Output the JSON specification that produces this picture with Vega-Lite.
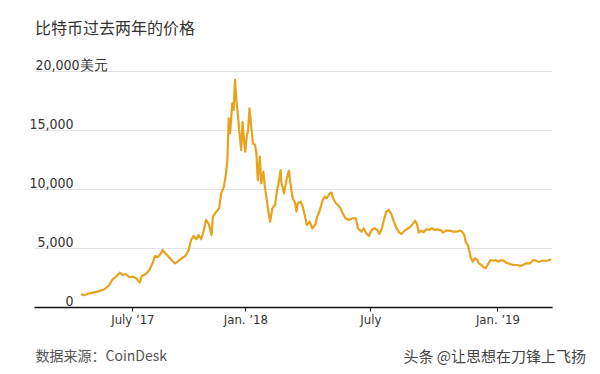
{
  "$schema": "https://vega.github.io/schema/vega-lite/v6.json",
  "width": 518,
  "height": 236,
  "autosize": {"type": "none"},
  "padding": {"left": 34, "top": 71, "right": 48, "bottom": 67},
  "background": "white",
  "title": {"text": "比特币过去两年的价格", "anchor": "start", "frame": "group", "font": "Noto Sans CJK SC", "fontSize": 16, "fontWeight": "normal", "color": "#333333", "offset": 21, "dx": 1},
  "config": {"view": {"stroke": null}},
  "data": {"values": [
    {"date": "2017-05-08", "price": 1076}, {"date": "2017-05-13", "price": 1000}, {"date": "2017-05-20", "price": 1160},
    {"date": "2017-06-01", "price": 1300}, {"date": "2017-06-11", "price": 1500}, {"date": "2017-06-18", "price": 1865},
    {"date": "2017-06-23", "price": 2350}, {"date": "2017-06-28", "price": 2570}, {"date": "2017-07-03", "price": 2910},
    {"date": "2017-07-07", "price": 2710}, {"date": "2017-07-12", "price": 2800}, {"date": "2017-07-17", "price": 2520},
    {"date": "2017-07-22", "price": 2570}, {"date": "2017-07-27", "price": 2430}, {"date": "2017-08-01", "price": 2060},
    {"date": "2017-08-04", "price": 2630}, {"date": "2017-08-10", "price": 2800}, {"date": "2017-08-15", "price": 3140},
    {"date": "2017-08-20", "price": 3760}, {"date": "2017-08-23", "price": 4320}, {"date": "2017-08-27", "price": 4210},
    {"date": "2017-09-01", "price": 4550}, {"date": "2017-09-03", "price": 4830}, {"date": "2017-09-07", "price": 4550},
    {"date": "2017-09-11", "price": 4320}, {"date": "2017-09-16", "price": 3980}, {"date": "2017-09-21", "price": 3700},
    {"date": "2017-09-25", "price": 3840}, {"date": "2017-10-01", "price": 4130}, {"date": "2017-10-06", "price": 4320},
    {"date": "2017-10-11", "price": 4830}, {"date": "2017-10-14", "price": 5620}, {"date": "2017-10-18", "price": 6020},
    {"date": "2017-10-22", "price": 5740}, {"date": "2017-10-25", "price": 6100}, {"date": "2017-10-29", "price": 5740},
    {"date": "2017-11-02", "price": 6530}, {"date": "2017-11-05", "price": 7370}, {"date": "2017-11-07", "price": 7230},
    {"date": "2017-11-09", "price": 7030}, {"date": "2017-11-13", "price": 6100}, {"date": "2017-11-15", "price": 7650},
    {"date": "2017-11-20", "price": 8080}, {"date": "2017-11-24", "price": 8360}, {"date": "2017-11-27", "price": 9630},
    {"date": "2017-12-01", "price": 10200}, {"date": "2017-12-04", "price": 11330}, {"date": "2017-12-06", "price": 12460},
    {"date": "2017-12-08", "price": 15990}, {"date": "2017-12-10", "price": 14720}, {"date": "2017-12-13", "price": 17260},
    {"date": "2017-12-15", "price": 16690}, {"date": "2017-12-17", "price": 19240}, {"date": "2017-12-19", "price": 17540},
    {"date": "2017-12-21", "price": 16410}, {"date": "2017-12-24", "price": 14430}, {"date": "2017-12-26", "price": 13300},
    {"date": "2017-12-28", "price": 15700}, {"date": "2017-12-30", "price": 14150}, {"date": "2018-01-01", "price": 13160},
    {"date": "2018-01-03", "price": 14430}, {"date": "2018-01-05", "price": 15000}, {"date": "2018-01-07", "price": 16840},
    {"date": "2018-01-10", "price": 15000}, {"date": "2018-01-12", "price": 13870}, {"date": "2018-01-15", "price": 13730},
    {"date": "2018-01-17", "price": 13030}, {"date": "2018-01-19", "price": 10760}, {"date": "2018-01-22", "price": 12740},
    {"date": "2018-01-24", "price": 10480}, {"date": "2018-01-27", "price": 11470}, {"date": "2018-01-29", "price": 10340},
    {"date": "2018-02-01", "price": 9070}, {"date": "2018-02-03", "price": 8220}, {"date": "2018-02-06", "price": 7230},
    {"date": "2018-02-09", "price": 8360}, {"date": "2018-02-13", "price": 8640}, {"date": "2018-02-16", "price": 9920},
    {"date": "2018-02-19", "price": 10760}, {"date": "2018-02-21", "price": 11610}, {"date": "2018-02-22", "price": 10620},
    {"date": "2018-02-26", "price": 9630}, {"date": "2018-03-02", "price": 10900}, {"date": "2018-03-05", "price": 11550},
    {"date": "2018-03-07", "price": 10620}, {"date": "2018-03-10", "price": 9350}, {"date": "2018-03-14", "price": 8790},
    {"date": "2018-03-16", "price": 8080}, {"date": "2018-03-18", "price": 8790}, {"date": "2018-03-22", "price": 8920},
    {"date": "2018-03-25", "price": 8500}, {"date": "2018-03-28", "price": 7800}, {"date": "2018-03-31", "price": 6950},
    {"date": "2018-04-04", "price": 7230}, {"date": "2018-04-08", "price": 6670}, {"date": "2018-04-12", "price": 6950},
    {"date": "2018-04-15", "price": 7650}, {"date": "2018-04-19", "price": 8220}, {"date": "2018-04-23", "price": 9070},
    {"date": "2018-04-26", "price": 9350}, {"date": "2018-04-29", "price": 9210}, {"date": "2018-05-03", "price": 9630},
    {"date": "2018-05-06", "price": 9690}, {"date": "2018-05-08", "price": 9210}, {"date": "2018-05-12", "price": 8790},
    {"date": "2018-05-15", "price": 8640}, {"date": "2018-05-19", "price": 8360}, {"date": "2018-05-22", "price": 7940},
    {"date": "2018-05-26", "price": 7520}, {"date": "2018-05-31", "price": 7370}, {"date": "2018-06-05", "price": 7520},
    {"date": "2018-06-10", "price": 7520}, {"date": "2018-06-13", "price": 6670}, {"date": "2018-06-18", "price": 6380},
    {"date": "2018-06-21", "price": 6670}, {"date": "2018-06-25", "price": 6250}, {"date": "2018-06-29", "price": 6020},
    {"date": "2018-07-03", "price": 6530}, {"date": "2018-07-07", "price": 6670}, {"date": "2018-07-11", "price": 6530},
    {"date": "2018-07-14", "price": 6190}, {"date": "2018-07-17", "price": 6530}, {"date": "2018-07-20", "price": 7230},
    {"date": "2018-07-24", "price": 8080}, {"date": "2018-07-28", "price": 8220}, {"date": "2018-08-01", "price": 7800},
    {"date": "2018-08-04", "price": 7230}, {"date": "2018-08-08", "price": 6670}, {"date": "2018-08-12", "price": 6300},
    {"date": "2018-08-15", "price": 6190}, {"date": "2018-08-18", "price": 6380}, {"date": "2018-08-21", "price": 6530},
    {"date": "2018-08-25", "price": 6670}, {"date": "2018-08-28", "price": 6800}, {"date": "2018-09-01", "price": 7090},
    {"date": "2018-09-04", "price": 7310}, {"date": "2018-09-07", "price": 6950}, {"date": "2018-09-09", "price": 6300},
    {"date": "2018-09-13", "price": 6470}, {"date": "2018-09-16", "price": 6330}, {"date": "2018-09-20", "price": 6580},
    {"date": "2018-09-24", "price": 6530}, {"date": "2018-09-28", "price": 6670}, {"date": "2018-10-02", "price": 6530},
    {"date": "2018-10-07", "price": 6580}, {"date": "2018-10-12", "price": 6470}, {"date": "2018-10-14", "price": 6300},
    {"date": "2018-10-19", "price": 6470}, {"date": "2018-10-24", "price": 6470}, {"date": "2018-10-29", "price": 6380},
    {"date": "2018-11-03", "price": 6380}, {"date": "2018-11-08", "price": 6470}, {"date": "2018-11-11", "price": 6380},
    {"date": "2018-11-14", "price": 6100}, {"date": "2018-11-16", "price": 5530}, {"date": "2018-11-19", "price": 5250},
    {"date": "2018-11-21", "price": 4830}, {"date": "2018-11-23", "price": 4260}, {"date": "2018-11-26", "price": 3840},
    {"date": "2018-11-29", "price": 4130}, {"date": "2018-12-03", "price": 3980}, {"date": "2018-12-05", "price": 3700},
    {"date": "2018-12-09", "price": 3560}, {"date": "2018-12-12", "price": 3360}, {"date": "2018-12-15", "price": 3280},
    {"date": "2018-12-19", "price": 3700}, {"date": "2018-12-22", "price": 3980}, {"date": "2018-12-26", "price": 3920},
    {"date": "2018-12-30", "price": 3980}, {"date": "2019-01-02", "price": 3840}, {"date": "2019-01-07", "price": 3980},
    {"date": "2019-01-10", "price": 3920}, {"date": "2019-01-14", "price": 3760}, {"date": "2019-01-19", "price": 3640},
    {"date": "2019-01-24", "price": 3560}, {"date": "2019-01-29", "price": 3560}, {"date": "2019-02-03", "price": 3470},
    {"date": "2019-02-07", "price": 3560}, {"date": "2019-02-12", "price": 3700}, {"date": "2019-02-17", "price": 3700},
    {"date": "2019-02-22", "price": 3980}, {"date": "2019-02-26", "price": 3920}, {"date": "2019-03-02", "price": 3840},
    {"date": "2019-03-07", "price": 3920}, {"date": "2019-03-13", "price": 3920}, {"date": "2019-03-17", "price": 3980},
    {"date": "2019-03-20", "price": 4040}
  ]},
  "mark": {"type": "line", "color": "#e8a21c", "strokeWidth": 2.2, "strokeJoin": "round"},
  "encoding": {
    "x": {
      "field": "date", "type": "temporal",
      "scale": {"type": "utc", "domain": [{"year": 2017, "month": 3, "date": 1, "utc": true}, {"year": 2019, "month": 3, "date": 21, "utc": true}]},
      "axis": {
        "values": [{"year": 2017, "month": 7, "date": 21, "hours": 10, "utc": true}, {"year": 2018, "month": 1, "date": 1, "utc": true}, {"year": 2018, "month": 7, "date": 1, "utc": true}, {"year": 2019, "month": 1, "date": 1, "utc": true}],
        "labelExpr": "utcyear(datum.value) == 2017 ? 'July ’17' : utcyear(datum.value) == 2019 ? 'Jan. ’19' : utcmonth(datum.value) == 0 ? 'Jan. ’18' : 'July'",
        "grid": false, "domain": true, "domainColor": "#111111", "domainWidth": 1.5,
        "ticks": true, "tickColor": "#111111", "tickSize": 4, "tickWidth": 1,
        "labelFont": "Liberation Sans Narrow, DejaVu Sans Condensed, sans-serif", "labelFontSize": 13, "labelColor": "#333333", "labelPadding": 2,
        "labelFlush": false, "labelOverlap": false,
        "title": "数据来源：CoinDesk", "titleAnchor": "start", "titleAlign": "left", "titleX": 1, "titleY": 53, "titleBaseline": "alphabetic",
        "titleFont": "Noto Sans CJK SC", "titleFontSize": 14, "titleFontWeight": "normal", "titleColor": "#555555"
      }
    },
    "y": {
      "field": "price", "type": "quantitative",
      "scale": {"domain": [0, 20000], "nice": false},
      "axis": {
        "values": [0, 5000, 10000, 15000, 20000],
        "grid": true, "gridColor": "#e2e2e2", "gridWidth": 1.2,
        "domain": false, "ticks": false, "tickSize": 0,
        "labelExpr": "datum.value == 20000 ? '20,000美元' : format(datum.value, ',.0f')",
        "labelAlign": {"condition": {"test": "datum.value == 20000", "value": "left"}, "value": "right"},
        "labelPadding": {"condition": {"test": "datum.value == 20000", "value": -1}, "value": -39},
        "labelBaseline": "alphabetic", "labelOffset": -2, "labelFlush": false,
        "labelFont": "Liberation Sans Narrow, DejaVu Sans Condensed, sans-serif", "labelFontSize": 14, "labelColor": "#333333",
        "title": "头条 @让思想在刀锋上飞扬", "titleAngle": 0, "titleX": 369, "titleY": 290, "titleAlign": "left", "titleBaseline": "alphabetic",
        "titleFont": "Noto Sans CJK SC", "titleFontSize": 15, "titleFontWeight": "normal", "titleColor": "#444444"
      }
    }
  }
}
